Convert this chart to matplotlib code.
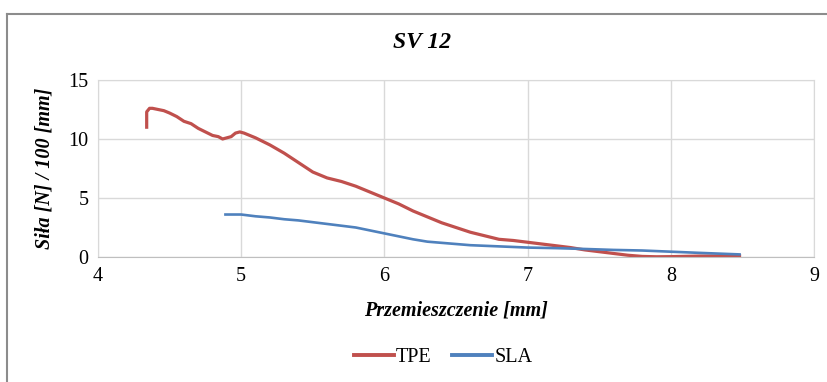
import matplotlib
matplotlib.use("Agg")
import matplotlib.pyplot as plt
from matplotlib.lines import Line2D

plt.rcParams['font.family'] = ['Liberation Serif', 'DejaVu Serif']

# TPE
tpe_x = [4.34, 4.34, 4.36, 4.38, 4.42, 4.46, 4.50, 4.55, 4.60, 4.65, 4.70, 4.75, 4.80,
         4.84, 4.87, 4.90, 4.93, 4.96, 4.99, 5.02, 5.10, 5.20, 5.30, 5.40, 5.50, 5.60,
         5.70, 5.80, 5.90, 6.00, 6.10, 6.20, 6.30, 6.40, 6.50, 6.60, 6.70, 6.80, 6.90,
         7.00, 7.10, 7.20, 7.30, 7.40, 7.50, 7.60, 7.70, 7.80, 7.90, 8.00, 8.20, 8.48]
tpe_y = [11.0, 12.3, 12.6, 12.6, 12.5, 12.4, 12.2, 11.9, 11.5, 11.3, 10.9, 10.6, 10.3,
         10.2, 10.0, 10.1, 10.2, 10.5, 10.6, 10.5, 10.1, 9.5, 8.8, 8.0, 7.2, 6.7,
         6.4, 6.0, 5.5, 5.0, 4.5, 3.9, 3.4, 2.9, 2.5, 2.1, 1.8, 1.5, 1.4,
         1.25, 1.1, 0.95, 0.8, 0.6, 0.45, 0.3, 0.15, 0.05, 0.02, 0.03, 0.08, 0.1]

# SLA
sla_x = [4.89, 5.00, 5.10, 5.20, 5.30, 5.40, 5.50, 5.60, 5.70, 5.80, 5.90, 6.00, 6.10,
         6.20, 6.30, 6.40, 6.50, 6.60, 6.70, 6.80, 6.90, 7.00, 7.20, 7.40, 7.60, 7.80,
         8.00, 8.20, 8.48]
sla_y = [3.6, 3.6, 3.45, 3.35, 3.2, 3.1, 2.95, 2.8, 2.65, 2.5, 2.25, 2.0, 1.75,
         1.5, 1.3, 1.2, 1.1, 1.0, 0.95, 0.9, 0.85, 0.8, 0.75, 0.68, 0.6, 0.55,
         0.45, 0.35, 0.22]

x_ticks = [4, 5, 6, 7, 8, 9]
y_ticks = [0, 5, 10, 15]

red = '#C0504D'
blue = '#4F81BD'

fig = plt.figure(figsize=(8.27, 3.82), dpi=100)
ax = fig.add_axes([98 / 827, 1 - 257 / 382, (814 - 98) / 827, (257 - 80) / 382])

ax.plot(tpe_x, tpe_y, color=red, lw=2.3, solid_joinstyle='round')
ax.plot(sla_x, sla_y, color=blue, lw=1.9, solid_joinstyle='round')

ax.set_xlim(4, 9)
ax.set_ylim(0, 15)
ax.set_xticks(x_ticks)
ax.set_yticks(y_ticks)
ax.grid(True, color='#D9D9D9', lw=1.0)
ax.set_axisbelow(True)
for s in ax.spines.values():
    s.set_color('#D9D9D9')
ax.spines['bottom'].set_color('#BFBFBF')
ax.tick_params(length=0, labelsize=14.5, pad=7)

fig.text(0.51, 1 - 42 / 382, 'SV 12', ha='center', va='center',
         fontsize=17, fontweight='bold', fontstyle='italic')
ax.set_xlabel('Przemieszczenie [mm]', fontsize=14.5, fontweight='bold', fontstyle='italic', labelpad=11)
ax.set_ylabel('Siła [N] / 100 [mm]', fontsize=14.5, fontweight='bold', fontstyle='italic', labelpad=10)

handles = [Line2D([], [], color=red, lw=2.8), Line2D([], [], color=blue, lw=2.8)]
fig.legend(handles, ['TPE', 'SLA'], loc='center', bbox_to_anchor=(443 / 827, 1 - 357 / 382),
           ncol=2, frameon=False, fontsize=14.5, handlelength=2.0, handletextpad=0.1,
           columnspacing=1.0)

# outer chart frame (partially visible)
fig.add_artist(Line2D([7 / 827, 1], [1 - 14 / 382, 1 - 14 / 382], color='#8C8C8C', lw=1.5))
fig.add_artist(Line2D([7 / 827, 7 / 827], [0, 1 - 14 / 382], color='#8C8C8C', lw=1.5))

fig.savefig('out.png', dpi=100)
